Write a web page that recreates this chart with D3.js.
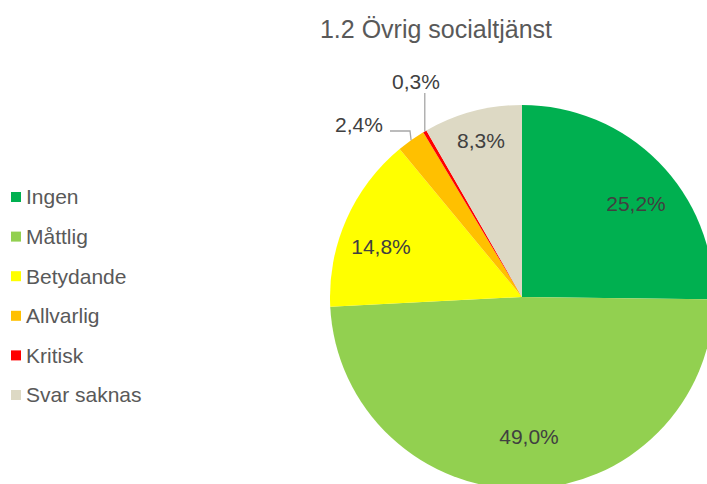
<!DOCTYPE html>
<html>
<head>
<meta charset="utf-8">
<script src="https://cdn.jsdelivr.net/npm/d3@7"></script>
<style>
  body { margin: 0; background: #fff; }
  svg text { font-family: "Liberation Sans", Arial, sans-serif; }
</style>
</head>
<body>
<div id="chart"></div>
<script>
var width = 707
var height = 484

// data
var categories = ["Ingen", "Måttlig", "Betydande", "Allvarlig", "Kritisk", "Svar saknas"]
var values = [25.2, 49.0, 14.8, 2.4, 0.3, 8.3]
var labels = ["25,2%", "49,0%", "14,8%", "2,4%", "0,3%", "8,3%"]
var colors = ["#00b050", "#92d050", "#ffff00", "#ffc000", "#ff0000", "#ddd9c4"]

var cx = 522, cy = 297, radius = 192

var svg = d3.select("#chart").append("svg")
    .attr("width", width)
    .attr("height", height)

svg.append("text")
    .attr("x", 436)
    .attr("y", 38)
    .attr("text-anchor", "middle")
    .attr("font-size", 25)
    .attr("fill", "#595959")
    .text("1.2 Övrig socialtjänst")

var pie = d3.pie().sort(null).value(function(d) { return d; })
var arcs = pie(values)
var arc = d3.arc().innerRadius(0).outerRadius(radius)

var g = svg.append("g").attr("transform", "translate(" + cx + "," + cy + ")")

g.selectAll("path")
    .data(arcs)
    .enter()
    .append("path")
    .attr("d", arc)
    .attr("fill", function(d, i) { return colors[i]; })

// label positions (offsets from centre); small slices get leader lines outside
var labelPos = [
    [114, -93], [7, 140], [-141, -50], [-163, -172], [-106, -215], [-41, -156]
]

g.selectAll("text.lbl")
    .data(arcs)
    .enter()
    .append("text")
    .attr("class", "lbl")
    .attr("x", function(d, i) { return labelPos[i][0]; })
    .attr("y", function(d, i) { return labelPos[i][1]; })
    .attr("text-anchor", "middle")
    .attr("dy", "0.35em")
    .attr("font-size", 21)
    .attr("fill", "#404040")
    .text(function(d, i) { return labels[i]; })

// leader lines
var leaderArc = d3.arc().innerRadius(radius).outerRadius(radius)
var p3 = leaderArc.centroid(arcs[3])
var p4 = leaderArc.centroid(arcs[4])
g.append("polyline")
    .attr("points", [[-132, -166], [-112, -166], p3].map(function(p) { return p.join(","); }).join(" "))
    .attr("fill", "none")
    .attr("stroke", "#a6a6a6")
    .attr("stroke-width", 1.3)
g.append("polyline")
    .attr("points", [[p4[0], -204], p4].map(function(p) { return p.join(","); }).join(" "))
    .attr("fill", "none")
    .attr("stroke", "#a6a6a6")
    .attr("stroke-width", 1.3)

// legend
var legend = svg.selectAll("g.leg")
    .data(categories)
    .enter()
    .append("g")
    .attr("class", "leg")
    .attr("transform", function(d, i) { return "translate(11," + (197 + i * 39.6) + ")"; })

legend.append("rect")
    .attr("x", 0)
    .attr("y", -5)
    .attr("width", 10)
    .attr("height", 10)
    .attr("fill", function(d, i) { return colors[i]; })

legend.append("text")
    .attr("x", 15)
    .attr("y", 0)
    .attr("dy", "0.35em")
    .attr("font-size", 21)
    .attr("fill", "#595959")
    .text(function(d) { return d; })
</script>
</body>
</html>
